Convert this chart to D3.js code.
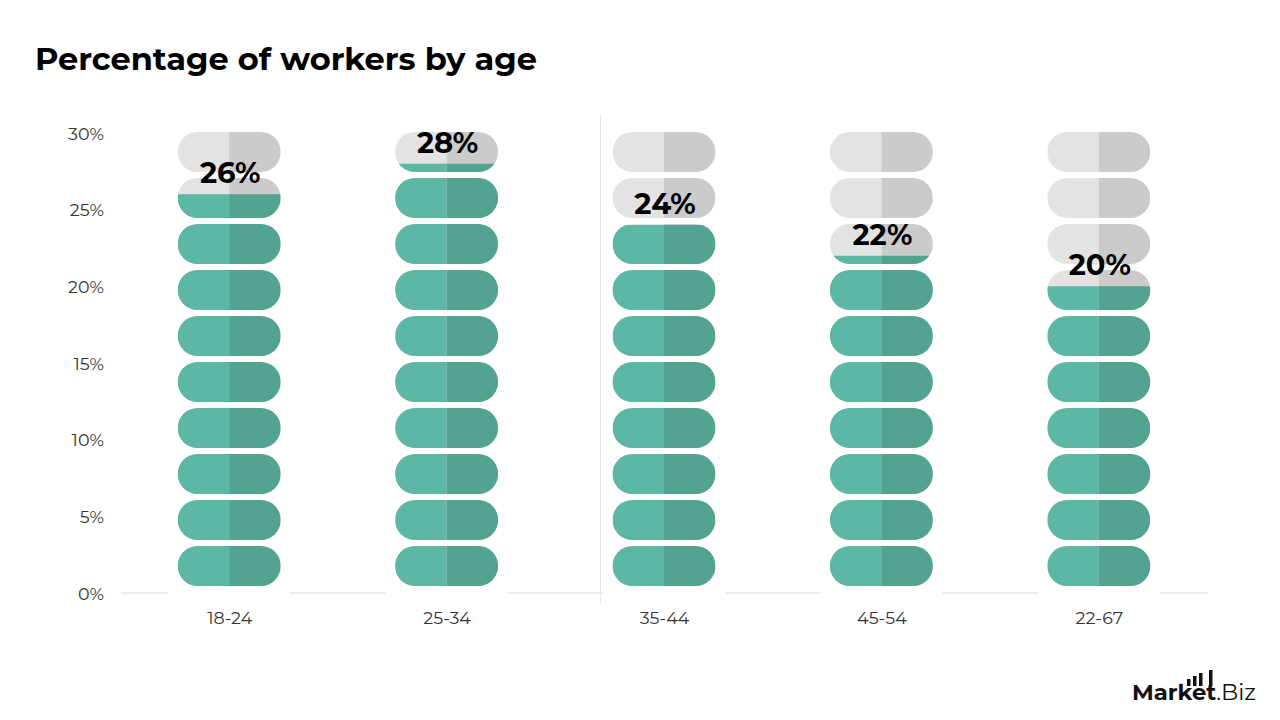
<!DOCTYPE html>
<html><head><meta charset="utf-8">
<script src="https://cdn.jsdelivr.net/npm/d3@7"></script>
<style>body{margin:0;background:#fff;}svg{display:block;}</style>
</head><body>
<svg id="c" width="1280" height="720"></svg>
<script>
const categories = ["18-24","25-34","35-44","45-54","22-67"];
const values = [26, 28, 24, 22, 20];
const yTicks = [0,5,10,15,20,25,30];
const unitStep = 3; // each pill = 3%

const svg = d3.select("#c");
const W = 1280, H = 720;
const font = "Montserrat, 'Open Sans', Lato, sans-serif";

svg.append("rect").attr("width",W).attr("height",H).attr("fill","#fff");

svg.append("text").attr("x",35).attr("y",70).text("Percentage of workers by age")
  .attr("font-family",font).attr("font-weight",700).attr("font-size",31).attr("fill","#000")
  .attr("textLength",502).attr("lengthAdjust","spacingAndGlyphs");

const x = d3.scaleBand().domain(categories).range([121,1208]).paddingInner(0).paddingOuter(0);
const y = d3.scaleLinear().domain([0,30]).range([593,133]);

// baseline
svg.append("line").attr("x1",121).attr("x2",1208).attr("y1",593).attr("y2",593)
  .attr("stroke","#d9d9d9").attr("stroke-width",1);
// vertical separator
svg.append("line").attr("x1",600.5).attr("x2",600.5).attr("y1",114).attr("y2",603)
  .attr("stroke","#e3e3e3").attr("stroke-width",1);

// y axis labels
const yAxis = d3.axisLeft(y).tickValues(yTicks).tickFormat(d=>d+"%").tickSize(0).tickPadding(0);
const ga = svg.append("g").attr("transform","translate(104,0)").call(yAxis);
ga.select(".domain").remove();
ga.selectAll("text").attr("font-family",font).attr("font-size",17.5).attr("fill","#333").attr("dy","0.35em");

const pillW = 103, pillH = 40, colBgW = 122;
const slots = d3.range(0, 30, unitStep);
const defs = svg.append("defs");

categories.forEach((cat, i) => {
  const cx = x(cat) + x.bandwidth()/2 - 0.5;
  const v = values[i];
  const g = svg.append("g");
  g.append("rect").attr("x",cx-colBgW/2).attr("y",110).attr("width",colBgW).attr("height",490).attr("fill","#fff");
  const clipId = "clip"+i;
  defs.append("clipPath").attr("id",clipId).append("rect")
    .attr("x",cx-pillW/2-2).attr("y",y(v)).attr("width",pillW+4).attr("height",y(0)-y(v));
  slots.forEach(s => {
    const top = y(s+unitStep) - 1;
    const pill = g.append("g");
    const drawPill = (cl, cr, parent) => {
      const cp = "pc"+i+"_"+s+"_"+cl.replace("#","");
      defs.append("clipPath").attr("id",cp).append("rect")
        .attr("x",cx-pillW/2).attr("y",top).attr("width",pillW).attr("height",pillH).attr("rx",pillH/2);
      const gg = parent.append("g").attr("clip-path",`url(#${cp})`);
      gg.append("rect").attr("x",cx-pillW/2).attr("y",top).attr("width",pillW/2).attr("height",pillH).attr("fill",cl);
      gg.append("rect").attr("x",cx).attr("y",top).attr("width",pillW/2).attr("height",pillH).attr("fill",cr);
    };
    drawPill("#e3e3e3","#cbcbcb", pill);
    const gp = pill.append("g").attr("clip-path",`url(#${clipId})`);
    drawPill("#5cb7a4","#52a38f", gp);
  });
  g.append("text").attr("x",cx+1).attr("y",y(v)-11).attr("text-anchor","middle")
    .attr("font-family",font).attr("font-weight",700).attr("font-size",29).attr("fill","#000").text(v+"%");
});

// x axis labels
const xAxis = d3.axisBottom(x).tickSize(0).tickPadding(0);
const gx = svg.append("g").attr("transform","translate(0,618)").call(xAxis);
gx.select(".domain").remove();
gx.selectAll("text").attr("font-family",font).attr("font-size",17.5).attr("fill","#333").attr("dy","0.35em");

// logo
const logo = svg.append("g");
logo.append("text").attr("x",1132).attr("y",700).attr("font-family",font).attr("font-size",22)
  .attr("fill","#111").attr("textLength",124).attr("lengthAdjust","spacingAndGlyphs")
  .html('<tspan font-weight="700">Market</tspan><tspan font-weight="400">.Biz</tspan>');
[[1187,679],[1193,676],[1199,673],[1209,670]].forEach(([bx,by])=>{
  logo.append("rect").attr("x",bx).attr("y",by).attr("width",3.5).attr("height",686-by).attr("fill","#111");
});
</script>
</body></html>
